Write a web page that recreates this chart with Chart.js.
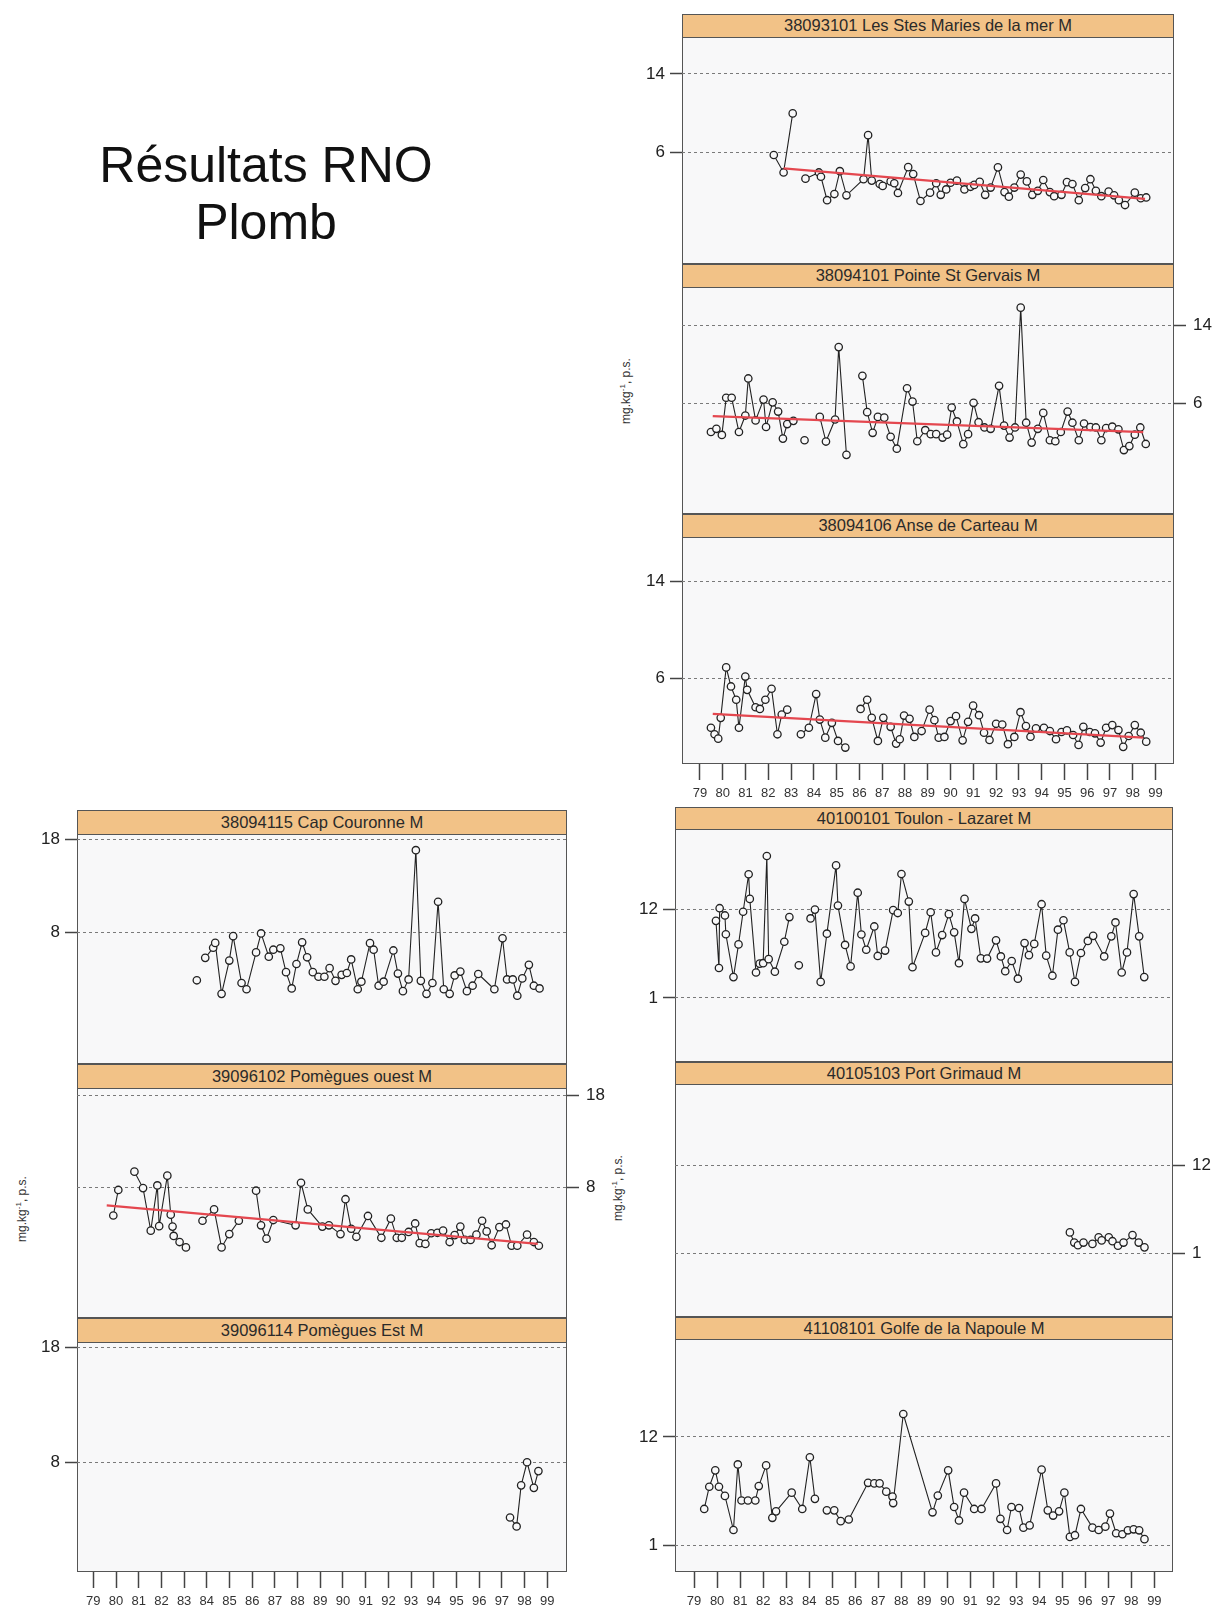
<!DOCTYPE html>
<html>
<head>
<meta charset="utf-8">
<script src="https://cdn.jsdelivr.net/npm/chart.js@4.4.1/dist/chart.umd.min.js"></script>
<style>
  html, body { margin: 0; padding: 0; background: #fff; overflow: hidden; }
  body { width: 1219px; height: 1614px; position: relative; font-family: 'Liberation Sans', Arial, sans-serif; }
  .title { position: absolute; left: 66px; top: 137px; width: 400px; text-align: center; font-size: 50px; line-height: 57px; color: #111; }
  .panel { position: absolute; border: 1.5px solid #555; background: #f8f8f9; box-sizing: border-box; }
  .strip { position: absolute; left: 0; right: 0; top: 0; background: #f2c287; border-bottom: 1.5px solid #555;
           text-align: center; font-size: 16.5px; color: #2a2a2a; z-index: 3; box-sizing: border-box; white-space: nowrap; }
  canvas { position: absolute; z-index: 2; }
  .ylab { position: absolute; font-size: 12px; color: #333; transform: translate(-50%, -50%) rotate(-90deg); white-space: nowrap; }
  .ylab sup { font-size: 8px; }
</style>
</head>
<body>
<div class="title">Résultats RNO<br>Plomb</div>
<div class="ylab" style="left:625px; top:391px">mg.kg<sup>-1</sup>, p.s.</div>
<div class="ylab" style="left:617px; top:1188px">mg.kg<sup>-1</sup>, p.s.</div>
<div class="ylab" style="left:21px; top:1209px">mg.kg<sup>-1</sup>, p.s.</div>
<script>
// tick labels of the year axis
const yearLabels = ['79','80','81','82','83','84','85','86','87','88','89','90','91','92','93','94','95','96','97','98','99'];

// 38093101 Les Stes Maries de la mer (null = no line through the gap)
const stesMariesYears = [82.24, 82.67, 83.07, 83.35, 83.63, 84.22, 84.31, 84.58, 84.90, 85.14, 85.43, 86.18, 86.38, 86.54, 86.89, 87.02, 87.37, 87.53, 87.69, 88.14, 88.36, 88.68, 89.10, 89.37, 89.57, 89.81, 90.00, 90.28, 90.61, 90.88, 91.04, 91.28, 91.52, 91.76, 92.08, 92.37, 92.56, 92.80, 93.08, 93.35, 93.59, 93.83, 94.07, 94.36, 94.55, 94.87, 95.11, 95.35, 95.63, 95.91, 96.14, 96.38, 96.62, 96.94, 97.18, 97.39, 97.66, 98.09, 98.35, 98.59];
const stesMariesPb = [5.73, 3.95, 9.97, null, 3.32, 3.95, 3.51, 1.12, 1.75, 4.08, 1.62, 3.26, 7.75, 3.12, 2.77, 2.58, 3.04, 2.85, 1.86, 4.49, 3.78, 1.04, 1.89, 2.85, 1.67, 2.22, 2.90, 3.12, 2.22, 2.49, 2.68, 2.99, 1.67, 2.41, 4.47, 1.95, 1.48, 2.41, 3.73, 3.04, 1.67, 2.08, 3.18, 1.95, 1.53, 1.67, 2.96, 2.77, 1.12, 2.36, 3.26, 2.08, 1.53, 2.0, 1.62, 1.12, 0.63, 1.89, 1.32, 1.40];
const stesMariesTrendYears = [82.67, 98.54];
const stesMariesTrendPb = [4.36, 1.26];

// 38094101 Pointe St Gervais
const stGervaisYears = [79.48, 79.72, 79.96, 80.15, 80.39, 80.71, 80.99, 81.12, 81.44, 81.79, 81.90, 82.19, 82.43, 82.64, 82.83, 83.10, 83.35, 83.59, 83.9, 84.26, 84.53, 84.93, 85.09, 85.43, 85.8, 86.13, 86.34, 86.58, 86.81, 87.09, 87.37, 87.64, 88.09, 88.33, 88.54, 88.89, 89.13, 89.37, 89.65, 89.85, 90.05, 90.28, 90.56, 90.77, 91.01, 91.23, 91.49, 91.76, 92.13, 92.35, 92.59, 92.83, 93.08, 93.32, 93.56, 93.83, 94.07, 94.36, 94.60, 94.84, 95.14, 95.35, 95.63, 95.86, 96.14, 96.38, 96.62, 96.83, 97.10, 97.37, 97.61, 97.85, 98.09, 98.33, 98.57];
const stGervaisPb = [3.02, 3.35, 2.72, 6.55, 6.55, 3.02, 4.72, 8.54, 4.22, 6.36, 3.54, 6.08, 5.13, 2.34, 3.84, 4.17, null, 2.17, null, 4.58, 2.04, 4.31, 11.77, 0.67, null, 8.81, 5.07, 2.94, 4.58, 4.50, 2.53, 1.30, 7.53, 6.16, 2.07, 3.21, 2.80, 2.80, 2.45, 2.75, 5.54, 4.11, 1.77, 2.80, 6.03, 4.03, 3.49, 3.35, 7.78, 3.68, 2.45, 3.49, 15.84, 3.98, 1.93, 3.35, 4.99, 2.17, 2.07, 3.02, 5.13, 3.98, 2.17, 3.90, 3.54, 3.49, 2.17, 3.43, 3.57, 3.30, 1.16, 1.57, 2.75, 3.49, 1.79];
const stGervaisTrendYears = [79.56, 98.46];
const stGervaisTrendPb = [4.66, 3.0];

// 38094106 Anse de Carteau
const carteauYears = [79.48, 79.64, 79.80, 79.91, 80.15, 80.36, 80.59, 80.71, 80.99, 81.07, 81.44, 81.63, 81.87, 82.14, 82.40, 82.59, 82.83, 83.1, 83.43, 83.78, 84.10, 84.26, 84.50, 84.79, 85.06, 85.38, 85.7, 86.05, 86.34, 86.54, 86.81, 87.05, 87.37, 87.61, 87.77, 87.96, 88.20, 88.41, 88.73, 89.08, 89.29, 89.48, 89.73, 90.00, 90.24, 90.53, 90.77, 90.99, 91.25, 91.47, 91.71, 92.00, 92.27, 92.52, 92.80, 93.07, 93.31, 93.51, 93.75, 94.10, 94.36, 94.63, 94.87, 95.11, 95.38, 95.62, 95.83, 96.11, 96.34, 96.59, 96.83, 97.10, 97.37, 97.58, 97.82, 98.09, 98.35, 98.59];
const carteauPb = [1.90, 1.36, 1.0, 2.72, 6.90, 5.32, 4.22, 1.90, 6.14, 5.04, 3.60, 3.46, 4.22, 5.13, 1.36, 2.99, 3.40, null, 1.36, 1.90, 4.69, 2.58, 1.08, 2.31, 0.81, 0.26, null, 3.46, 4.22, 2.72, 0.81, 2.72, 1.98, 0.59, 0.95, 2.91, 2.64, 1.14, 1.63, 3.40, 2.53, 1.08, 1.14, 2.45, 2.86, 0.86, 2.39, 3.73, 2.94, 1.49, 0.89, 2.23, 2.17, 0.54, 1.14, 3.19, 2.04, 1.16, 1.85, 1.90, 1.63, 0.95, 1.55, 1.68, 1.30, 0.48, 1.98, 1.55, 1.44, 0.67, 1.90, 2.12, 1.71, 0.32, 1.22, 2.12, 1.49, 0.75];
const carteauTrendYears = [79.56, 98.46];
const carteauTrendPb = [3.05, 1.08];

// 40100101 Toulon - Lazaret
const toulonYears = [79.95, 80.08, 80.11, 80.34, 80.38, 80.71, 80.93, 81.13, 81.37, 81.42, 81.69, 81.85, 82.00, 82.16, 82.24, 82.51, 82.92, 83.14, 83.35, 83.55, 83.8, 84.06, 84.25, 84.50, 84.77, 85.17, 85.25, 85.56, 85.80, 86.11, 86.27, 86.48, 86.83, 86.98, 87.30, 87.65, 87.85, 88.01, 88.33, 88.49, 89.04, 89.28, 89.51, 89.78, 90.07, 90.30, 90.51, 90.75, 91.05, 91.21, 91.46, 91.73, 92.12, 92.33, 92.52, 92.80, 93.07, 93.36, 93.55, 93.78, 94.10, 94.30, 94.57, 94.81, 95.05, 95.32, 95.55, 95.81, 96.11, 96.34, 96.82, 97.13, 97.31, 97.58, 97.81, 98.10, 98.34, 98.56];
const toulonPb = [10.6, 4.73, 12.17, 11.27, 8.93, 3.6, 7.67, 11.73, 16.4, 13.33, 4.17, 5.27, 5.33, 18.67, 5.83, 4.27, 8.0, 11.07, null, 5.07, null, 10.9, 12.0, 3.0, 9.0, 17.5, 12.5, 7.6, 4.93, 14.1, 8.9, 7.0, 9.9, 6.23, 6.9, 11.93, 11.57, 16.43, 13.0, 4.83, 9.1, 11.67, 6.67, 8.83, 11.43, 9.17, 5.33, 13.33, 9.6, 10.9, 5.93, 5.9, 8.17, 6.17, 4.33, 5.6, 3.4, 7.83, 6.33, 7.73, 12.67, 6.27, 3.77, 9.5, 10.67, 6.67, 3.0, 6.6, 8.1, 8.73, 6.17, 8.67, 10.4, 4.17, 6.67, 13.93, 8.67, 3.6];

// 40105103 Port Grimaud
const grimaudYears = [95.33, 95.52, 95.68, 95.92, 96.31, 96.58, 96.71, 97.02, 97.18, 97.42, 97.66, 98.05, 98.32, 98.57];
const grimaudPb = [3.62, 2.34, 2.0, 2.34, 2.17, 3.01, 2.61, 3.01, 2.51, 1.94, 2.34, 3.28, 2.34, 1.74];

// 41108101 Golfe de la Napoule
const napouleYears = [79.44, 79.66, 79.92, 80.08, 80.34, 80.71, 80.90, 81.06, 81.34, 81.66, 81.81, 82.13, 82.40, 82.56, 83.24, 83.70, 84.03, 84.25, 84.5, 84.77, 85.09, 85.37, 85.72, 86.56, 86.83, 87.06, 87.35, 87.62, 87.65, 88.09, 89.36, 89.59, 90.04, 90.30, 90.51, 90.73, 91.17, 91.49, 92.12, 92.31, 92.60, 92.79, 93.12, 93.31, 93.58, 94.10, 94.37, 94.60, 94.86, 95.09, 95.33, 95.55, 95.81, 96.31, 96.58, 96.87, 97.07, 97.34, 97.61, 97.85, 98.10, 98.34, 98.57];
const napoulePb = [4.67, 6.93, 8.6, 6.93, 6.0, 2.53, 9.2, 5.53, 5.53, 5.53, 7.0, 9.1, 3.77, 4.43, 6.33, 4.67, 9.93, 5.7, null, 4.53, 4.53, 3.43, 3.6, 7.33, 7.27, 7.27, 6.43, 5.93, 5.27, 14.33, 4.33, 6.03, 8.6, 4.87, 3.5, 6.33, 4.67, 4.67, 7.27, 3.67, 2.53, 4.87, 4.77, 2.77, 3.0, 8.67, 4.53, 4.0, 4.43, 6.33, 1.83, 2.0, 4.67, 2.77, 2.53, 2.87, 4.2, 2.2, 2.1, 2.5, 2.6, 2.5, 1.6];

// 38094115 Cap Couronne
const couronneYears = [83.56, 83.75, 83.93, 84.28, 84.37, 84.65, 84.99, 85.16, 85.53, 85.75, 86.17, 86.39, 86.73, 86.93, 87.24, 87.49, 87.74, 87.95, 88.20, 88.42, 88.67, 88.92, 89.18, 89.41, 89.67, 89.94, 90.17, 90.36, 90.65, 90.81, 91.19, 91.35, 91.57, 91.79, 92.22, 92.42, 92.64, 92.89, 93.21, 93.43, 93.68, 93.94, 94.19, 94.44, 94.70, 94.92, 95.17, 95.46, 95.71, 95.96, 96.67, 97.03, 97.23, 97.48, 97.68, 97.90, 98.19, 98.41, 98.66];
const couronnePb = [2.90, null, 5.30, 6.38, 6.90, 1.45, 5.01, 7.62, 2.61, 1.94, 5.88, 7.91, 5.42, 6.17, 6.32, 3.77, 2.03, 4.64, 6.96, 5.36, 3.77, 3.28, 3.28, 4.20, 2.84, 3.48, 3.68, 5.13, 1.94, 2.75, 6.87, 6.17, 2.32, 2.75, 6.09, 3.62, 1.74, 2.99, 16.81, 2.84, 1.45, 2.61, 11.30, 1.94, 1.45, 3.42, 3.83, 1.74, 2.32, 3.57, 1.94, 7.39, 2.99, 2.99, 1.25, 3.10, 4.55, 2.32, 2.03];

// 39096102 Pomègues ouest
const pomOuestYears = [79.88, 80.10, 80.45, 80.81, 81.19, 81.53, 81.82, 81.90, 82.26, 82.41, 82.49, 82.54, 82.80, 83.08, 83.45, 83.81, 84.32, 84.65, 84.99, 85.41, 85.8, 86.17, 86.39, 86.63, 86.93, 87.91, 88.15, 88.45, 89.09, 89.38, 89.89, 90.11, 90.36, 90.59, 91.10, 91.69, 92.11, 92.37, 92.59, 92.89, 93.18, 93.38, 93.63, 93.89, 94.16, 94.41, 94.70, 94.92, 95.17, 95.37, 95.62, 95.88, 96.13, 96.33, 96.55, 96.89, 97.18, 97.43, 97.68, 98.11, 98.41, 98.63];
const pomOuestPb = [4.98, 7.74, null, 9.72, 7.94, 3.34, 8.23, 3.83, 9.29, 5.07, 3.78, 2.77, 2.11, 1.53, null, 4.41, 5.64, 1.53, 2.97, 4.41, null, 7.66, 3.92, 2.48, 4.49, 3.92, 8.52, 5.64, 3.78, 3.92, 2.97, 6.74, 3.55, 2.68, 4.93, 2.57, 4.64, 2.57, 2.57, 3.20, 4.12, 1.99, 1.91, 3.06, 3.11, 3.34, 2.11, 2.86, 3.78, 2.34, 2.34, 2.91, 4.41, 3.26, 1.76, 3.72, 4.01, 1.71, 1.71, 2.91, 2.11, 1.71];
const pomOuestTrendYears = [79.59, 98.58];
const pomOuestTrendPb = [6.07, 1.91];

// 39096114 Pomègues Est
const pomEstYears = [97.36, 97.65, 97.85, 98.11, 98.41, 98.61];
const pomEstPb = [3.19, 2.41, 5.99, 8.0, 5.77, 7.23];

// y ticks of each group of panels
const rightTopTicks = [14, 6];
const rightBottomTicks = [12, 1];
const leftTicks = [18, 8];

const FONT = "'Liberation Sans', Arial, sans-serif";
const AX = 44, TOPPAD = 12, XH = 42;
const BG = '#f8f8f9';

const groups = {
  rt: { left: 682, right: 1174, stripH: 23, bodyH: 227, yMin: -1.1, yMax: 17.43, ticks: rightTopTicks, xMin: 78.21, xMax: 99.81 },
  rb: { left: 675, right: 1173, stripH: 22, bodyH: 233, yMin: -1.74, yMax: 21.63, ticks: rightBottomTicks, xMin: 78.17, xMax: 99.81 },
  lf: { left: 77, right: 567, stripH: 24, bodyH: 230, yMin: -1.56, yMax: 18.2, ticks: leftTicks, xMin: 78.28, xMax: 99.87 }
};

const panels = [
  { g: 'rt', top: 14,   side: 'left',  title: '38093101 Les Stes Maries de la mer M', years: stesMariesYears, vals: stesMariesPb, tYears: stesMariesTrendYears, tVals: stesMariesTrendPb },
  { g: 'rt', top: 264,  side: 'right', title: '38094101 Pointe St Gervais M', years: stGervaisYears, vals: stGervaisPb, tYears: stGervaisTrendYears, tVals: stGervaisTrendPb },
  { g: 'rt', top: 514,  side: 'left',  title: '38094106 Anse de Carteau M', years: carteauYears, vals: carteauPb, tYears: carteauTrendYears, tVals: carteauTrendPb, xAxis: true },
  { g: 'rb', top: 807,  side: 'left',  title: '40100101 Toulon - Lazaret M', years: toulonYears, vals: toulonPb },
  { g: 'rb', top: 1062, side: 'right', title: '40105103 Port Grimaud M', years: grimaudYears, vals: grimaudPb },
  { g: 'rb', top: 1317, side: 'left',  title: '41108101 Golfe de la Napoule M', years: napouleYears, vals: napoulePb, xAxis: true },
  { g: 'lf', top: 810,  side: 'left',  title: '38094115 Cap Couronne M', years: couronneYears, vals: couronnePb },
  { g: 'lf', top: 1064, side: 'right', title: '39096102 Pomègues ouest M', years: pomOuestYears, vals: pomOuestPb, tYears: pomOuestTrendYears, tVals: pomOuestTrendPb },
  { g: 'lf', top: 1318, side: 'left',  title: '39096114 Pomègues Est M', years: pomEstYears, vals: pomEstPb, xAxis: true }
];

function addPanel(p) {
  const g = groups[p.g];
  const w = g.right - g.left;
  const bodyTop = p.top + g.stripH;

  const box = document.createElement('div');
  box.className = 'panel';
  Object.assign(box.style, { left: g.left + 'px', top: p.top + 'px', width: w + 'px', height: (g.stripH + g.bodyH) + 'px' });
  const strip = document.createElement('div');
  strip.className = 'strip';
  strip.style.height = g.stripH + 'px';
  strip.style.lineHeight = (g.stripH - 2) + 'px';
  strip.textContent = p.title;
  box.appendChild(strip);
  document.body.appendChild(box);

  const cv = document.createElement('canvas');
  const cw = w + 2 * AX, ch = TOPPAD + g.bodyH + (p.xAxis ? XH : 0);
  cv.width = cw; cv.height = ch;
  Object.assign(cv.style, { left: (g.left - AX) + 'px', top: (bodyTop - TOPPAD) + 'px', width: cw + 'px', height: ch + 'px' });
  document.body.appendChild(cv);

  const datasets = [{
    data: p.years.map((x, i) => ({ x: x, y: p.vals[i] })),
    borderColor: '#222', borderWidth: 1.1, tension: 0, spanGaps: false,
    pointRadius: 3.7, pointBorderWidth: 1.3, pointBorderColor: '#222', pointBackgroundColor: BG,
    order: 2
  }];
  if (p.tYears) {
    datasets.push({
      data: p.tYears.map((x, i) => ({ x: x, y: p.tVals[i] })),
      borderColor: '#e4474f', borderWidth: 2.3, pointRadius: 0, order: 1
    });
  }

  new Chart(cv, {
    type: 'line',
    data: { datasets },
    options: {
      responsive: false, animation: false,
      layout: { autoPadding: false, padding: { top: TOPPAD, bottom: 0, left: p.side === 'right' ? AX : 0, right: p.side === 'left' ? AX : 0 } },
      plugins: { legend: { display: false }, tooltip: { enabled: false } },
      scales: {
        x: {
          type: 'linear', min: g.xMin, max: g.xMax, display: !!p.xAxis,
          afterBuildTicks: s => { s.ticks = yearLabels.map(v => ({ value: Number(v) })); },
          afterFit: s => { s.height = XH; },
          ticks: { autoSkip: false, maxRotation: 0, padding: 6, color: '#333', font: { family: FONT, size: 13 }, callback: v => String(v) },
          grid: { drawOnChartArea: false, drawTicks: true, tickLength: 16, tickColor: '#444', tickWidth: 1.5 },
          border: { display: false }
        },
        y: {
          type: 'linear', position: p.side, min: g.yMin, max: g.yMax,
          afterBuildTicks: s => { s.ticks = g.ticks.map(v => ({ value: v })); },
          afterFit: s => { s.width = AX; },
          ticks: { color: '#222', padding: p.side === 'right' ? 7 : 5, font: { family: FONT, size: 17 } },
          grid: { color: '#7a7a7a', lineWidth: 1, drawTicks: true, tickLength: 12, tickColor: '#444', tickWidth: 1.5, tickBorderDash: [] },
          border: { display: false, dash: [3, 3] }
        }
      }
    }
  });
}

panels.forEach(addPanel);
</script>
</body>
</html>
